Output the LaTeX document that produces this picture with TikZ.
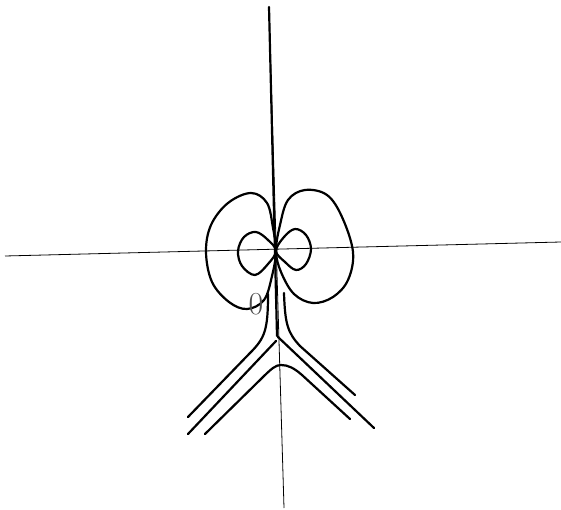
\documentclass[tikz,border=0pt]{standalone}
\usepackage{tikz}
\usetikzlibrary{calc}
\tikzset{every node/.append style={align=center}}

\begin{document}
\begin{tikzpicture}[x=1pt, y=-1pt, axis/.style={black, line width=0.8pt}, level/.style={black, line width=2.2pt, line cap=round, line join=round}]
  \useasboundingbox (0,0) rectangle (561,510);
  % axes
  \draw[axis] (5,256) -- (561,242);
  \draw[axis] (269,7) -- (284,508);
  \draw[level] (269,7) -- (277,336);
  % closed level curves
  \draw[level] plot[smooth cycle, tension=0.6] coordinates {(276,251) (273,228) (267,203) (251,193) (228,203) (211,225) (206,252) (212,282) (229,302) (247,309) (264,300) (272,276)};
  \draw[level] plot[smooth cycle, tension=0.6] coordinates {(276,251) (280,225) (288,200) (305,190) (327,195) (342,217) (353,252) (348,280) (333,297) (313,303) (294,294) (281,272)};
  \draw[level] plot[smooth cycle, tension=0.6] coordinates {(276,251) (268,240) (256,232) (244,237) (238,251) (242,266) (255,275) (268,264)};
  \draw[level] plot[smooth cycle, tension=0.6] coordinates {(276,251) (284,237) (295,229) (306,235) (311,249) (306,264) (296,270) (285,262)};
  % open level curves
  \draw[level] (268,294) .. controls (268,330) and (265,338) .. (250,353) -- (188,417);
  \draw[level] (276,341) -- (188,434);
  \draw[level] (205,434) -- (262,378) .. controls (272,368) and (276,365) .. (281,365) .. controls (288,365) and (294,368) .. (302,375) -- (350,419);
  \draw[level] (278,337) -- (374,428);
  \draw[level] (284,293) .. controls (285,325) and (288,333) .. (300,346) -- (355,395);
  \node[text=black!70, font=\fontsize{32}{32}\selectfont, inner sep=0pt] (zero) at (256,304) {0};
\end{tikzpicture}
\end{document}
